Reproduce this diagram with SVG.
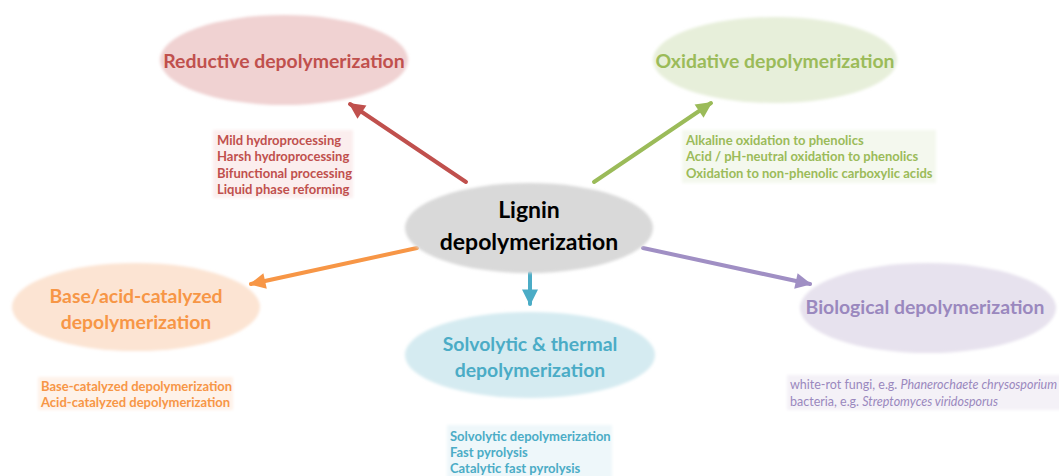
<svg xmlns="http://www.w3.org/2000/svg" width="1059" height="476" viewBox="0 0 1059 476">
  <defs>
    <filter id="soft" x="-10%" y="-10%" width="120%" height="120%">
      <feGaussianBlur stdDeviation="1.6"/>
    </filter>
    <filter id="softbox" x="-5%" y="-10%" width="110%" height="120%">
      <feGaussianBlur stdDeviation="1.5"/>
    </filter>
    <marker id="ah-red" viewBox="0 0 10 10" refX="9" refY="5" markerWidth="4.4" markerHeight="4" orient="auto" markerUnits="strokeWidth">
      <path d="M0,0 L10,5 L0,10 z" fill="#C0504D"/>
    </marker>
    <marker id="ah-green" viewBox="0 0 10 10" refX="9" refY="5" markerWidth="4.4" markerHeight="4" orient="auto" markerUnits="strokeWidth">
      <path d="M0,0 L10,5 L0,10 z" fill="#9BBB59"/>
    </marker>
    <marker id="ah-orange" viewBox="0 0 10 10" refX="9" refY="5" markerWidth="4.4" markerHeight="4" orient="auto" markerUnits="strokeWidth">
      <path d="M0,0 L10,5 L0,10 z" fill="#F79646"/>
    </marker>
    <marker id="ah-purple" viewBox="0 0 10 10" refX="9" refY="5" markerWidth="4.4" markerHeight="4" orient="auto" markerUnits="strokeWidth">
      <path d="M0,0 L10,5 L0,10 z" fill="#A08FC4"/>
    </marker>
    <marker id="ah-teal" viewBox="0 0 10 10" refX="9" refY="5" markerWidth="4.4" markerHeight="4" orient="auto" markerUnits="strokeWidth">
      <path d="M0,0 L10,5 L0,10 z" fill="#4BACC6"/>
    </marker>
  </defs>
  <style>
    text { font-family: "Lato", "Liberation Sans", sans-serif; font-weight: bold; }
    .title { font-size: 19.4px; text-anchor: middle; }
    .center { font-size: 23px; fill: #000000; text-anchor: middle; }
    .list { font-size: 13px; }
    .bio { font-weight: normal; font-size: 12.5px; }
    .conn { fill: none; stroke-width: 4; stroke-linecap: round; }
    .red { fill: #C0504D; }
    .green { fill: #9BBB59; }
    .orange { fill: #F79646; }
    .teal { fill: #4BACC6; }
    .purple { fill: #9A88BE; }
  </style>
  <rect width="1059" height="476" fill="#FFFFFF"/>

  <!-- connectors -->
  <g id="connectors">
    <line class="conn" x1="466" y1="182" x2="350" y2="104" stroke="#C0504D" marker-end="url(#ah-red)"/>
    <line class="conn" x1="594" y1="182" x2="711" y2="103" stroke="#9BBB59" marker-end="url(#ah-green)"/>
    <line class="conn" x1="417" y1="248" x2="251" y2="284" stroke="#F79646" marker-end="url(#ah-orange)"/>
    <line class="conn" x1="643" y1="248" x2="810" y2="284" stroke="#A08FC4" marker-end="url(#ah-purple)"/>
    <line class="conn" x1="530" y1="273" x2="530" y2="304" stroke="#4BACC6" marker-end="url(#ah-teal)"/>
  </g>

  <!-- central node -->
  <g id="lignin">
    <ellipse cx="529" cy="228" rx="124" ry="45" fill="#D9D9D9" filter="url(#soft)"/>
    <text class="center" x="529" y="218">Lignin</text>
    <text class="center" x="529" y="250">depolymerization</text>
  </g>

  <g id="reductive">
    <ellipse cx="284" cy="60" rx="124" ry="45" fill="#F0D2D2" filter="url(#soft)"/>
    <text class="title red" x="284" y="68">Reductive depolymerization</text>
    <rect x="213" y="130" width="140" height="68" fill="#FBEEEE" filter="url(#softbox)"/>
    <text class="list red" x="217" y="145">Mild hydroprocessing</text>
    <text class="list red" x="217" y="161">Harsh hydroprocessing</text>
    <text class="list red" x="217" y="178">Bifunctional processing</text>
    <text class="list red" x="217" y="194">Liquid phase reforming</text>
  </g>

  <g id="oxidative">
    <ellipse cx="775" cy="60" rx="122" ry="43" fill="#E7EFDA" filter="url(#soft)"/>
    <text class="title green" x="775" y="68">Oxidative depolymerization</text>
    <rect x="682" y="130" width="254" height="53" fill="#F4F8EE" filter="url(#softbox)"/>
    <text class="list green" x="686" y="145">Alkaline oxidation to phenolics</text>
    <text class="list green" x="686" y="161">Acid / pH-neutral oxidation to phenolics</text>
    <text class="list green" x="686" y="178">Oxidation to non-phenolic carboxylic acids</text>
  </g>

  <g id="base-acid">
    <ellipse cx="136" cy="307" rx="124" ry="44" fill="#FCE4D3" filter="url(#soft)"/>
    <text class="title orange" x="136" y="303">Base/acid-catalyzed</text>
    <text class="title orange" x="136" y="329">depolymerization</text>
    <rect x="38" y="377" width="195" height="33" fill="#FEF2E9" filter="url(#softbox)"/>
    <text class="list orange" x="41" y="391">Base-catalyzed depolymerization</text>
    <text class="list orange" x="41" y="407">Acid-catalyzed depolymerization</text>
  </g>

  <g id="solvolytic">
    <ellipse cx="530" cy="355" rx="125" ry="43" fill="#D5EBF1" filter="url(#soft)"/>
    <text class="title teal" x="530" y="351">Solvolytic &amp; thermal</text>
    <text class="title teal" x="530" y="377">depolymerization</text>
    <rect x="447" y="425" width="165" height="55" fill="#EEF7FA" filter="url(#softbox)"/>
    <text class="list teal" x="450" y="441">Solvolytic depolymerization</text>
    <text class="list teal" x="450" y="457">Fast pyrolysis</text>
    <text class="list teal" x="450" y="473">Catalytic fast pyrolysis</text>
  </g>

  <g id="biological">
    <ellipse cx="928" cy="308" rx="128" ry="45" fill="#E7E2EE" filter="url(#soft)"/>
    <text class="title purple" x="925" y="314">Biological depolymerization</text>
    <rect x="787" y="375" width="275" height="35" fill="#F4F1F7" filter="url(#softbox)"/>
    <text class="list purple bio" x="790" y="389">white-rot fungi, e.g. <tspan font-style="italic">Phanerochaete chrysosporium</tspan></text>
    <text class="list purple bio" x="790" y="406">bacteria, e.g. <tspan font-style="italic">Streptomyces viridosporus</tspan></text>
  </g>
</svg>
